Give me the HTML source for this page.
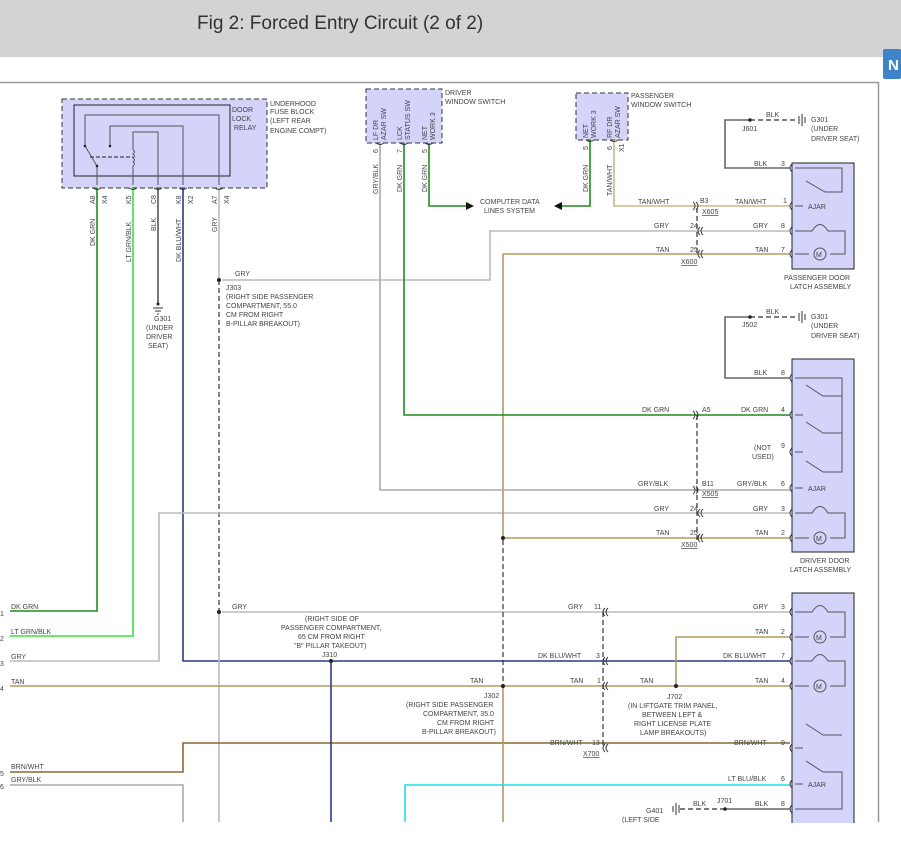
<!DOCTYPE html>
<html><head><meta charset="utf-8"><style>
html,body{margin:0;padding:0;background:#fff;width:901px;height:842px;overflow:hidden}
svg{display:block}
text{font-family:"Liberation Sans",sans-serif;font-size:7px;fill:#444}
</style></head><body>
<svg width="901" height="842" viewBox="0 0 901 842" xmlns="http://www.w3.org/2000/svg">
<rect x="0" y="0" width="901" height="57" fill="#d3d3d3"/>
<text x="197" y="29" style="font-size:19px;fill:#333">Fig 2: Forced Entry Circuit (2 of 2)</text>
<rect x="883" y="49" width="18" height="30" rx="2" fill="#3d85c6"/>
<text x="888" y="70" style="font-size:15px;fill:#fff;font-weight:bold">N</text>
<path d="M0 82.5 H878.5 V822" fill="none" stroke="#999" stroke-width="1.5"/>

<rect x="62" y="99" width="205" height="89" fill="#d4d4fb" stroke="#333" stroke-dasharray="5,3"/>
<rect x="74" y="105" width="156" height="71" fill="#d4d4fb" stroke="#222"/>
<g fill="none" stroke="#555">
<path d="M85 146 V115 H219 V185"/>
<path d="M110 146 V126 H183 V185"/>
<path d="M158 185 V132 H133 V150"/>
<path d="M133 150 q3 2 0 4 q3 2 0 4 q3 2 0 4 q3 2 0 4 V185"/>
<path d="M85 146 L97 166 V185"/>
<path d="M90 157 H133" stroke-dasharray="4,2" stroke="#222"/>
</g>
<circle cx="85" cy="146" r="1.3" fill="#222"/><circle cx="110" cy="146" r="1.3" fill="#222"/><circle cx="97" cy="166" r="1.3" fill="#222"/>
<text x="232" y="112">DOOR</text><text x="232" y="121">LOCK</text><text x="234" y="130">RELAY</text>
<text x="270" y="106">UNDERHOOD</text><text x="270" y="114">FUSE BLOCK</text><text x="270" y="123">(LEFT REAR</text><text x="270" y="133">ENGINE COMPT)</text>

<rect x="366" y="89" width="76" height="54" fill="#d4d4fb" stroke="#333" stroke-dasharray="5,3"/>
<rect x="576" y="93" width="52" height="47" fill="#d4d4fb" stroke="#333" stroke-dasharray="5,3"/>
<text x="445" y="95">DRIVER</text><text x="445" y="104">WINDOW SWITCH</text>
<text x="631" y="98">PASSENGER</text><text x="631" y="107">WINDOW SWITCH</text>
<g transform="rotate(-90)">
<text x="-140" y="378">LF DR</text><text x="-140" y="386">AZAR SW</text>
<text x="-140" y="402">LCK</text><text x="-140" y="410">STATUS SW</text>
<text x="-140" y="427">NET</text><text x="-140" y="435">WORK 3</text>
<text x="-138" y="588">NET</text><text x="-138" y="596">WORK 3</text>
<text x="-138" y="612">RF DR</text><text x="-138" y="620">AZAR SW</text>
</g>

<g fill="none" stroke-width="1.6">
<path d="M97 188 V611 H10" stroke="#1e8c1e"/>
<path d="M133 188 V636 H10" stroke="#3ee03e"/>
<path d="M158 188 V303" stroke="#555"/>
<path d="M183 188 V661 H790" stroke="#2a3a8a"/>
<path d="M219 188 V280" stroke="#bbb"/>
<path d="M219 280 V612" stroke="#333" stroke-dasharray="5,3" stroke-width="1.2"/>
<path d="M219 612 V822" stroke="#bbb"/>
<path d="M222 280 H490 V231 H790" stroke="#bbb"/>
<path d="M222 612 H790" stroke="#bbb"/>
<path d="M10 661 H159 V513 H790" stroke="#bbb"/>
<path d="M10 686 H790" stroke="#b39a60"/>
<path d="M10 772 H183 V743 H790" stroke="#8a6a30"/>
<path d="M10 785 H183 V822" stroke="#aaa"/>
<path d="M331 661 V822" stroke="#2a3a8a"/>
<path d="M503 254 H790 M503 254 V538 H790" stroke="#b39a60"/>
<path d="M503 540 V686" stroke="#333" stroke-dasharray="5,3" stroke-width="1.2"/>
<path d="M503 686 V822" stroke="#b39a60"/>
<path d="M405 822 V785 H790" stroke="#19e0e6"/>
<path d="M380 143 V490 H790" stroke="#aaa"/>
<path d="M404 143 V415 H790" stroke="#1e8c1e"/>
<path d="M429 143 V206 H466" stroke="#1e8c1e"/>
<path d="M590 140 V206 H562" stroke="#1e8c1e"/>
<path d="M614 140 V206 H790" stroke="#c9b88e"/>
<path d="M676 686 V637 H790" stroke="#b39a60"/>
<path d="M790 168 H725 V120 H750" stroke="#666"/>
<path d="M790 378 H725 V317 H750" stroke="#666"/>
<path d="M790 809 H725" stroke="#666"/>
</g>
<g stroke="#333" stroke-dasharray="5,3" stroke-width="1.2" fill="none">
<path d="M750 120 H798 M750 317 H798 M725 809 H680"/>
<path d="M697 208 V254 M697 415 V540 M603 612 V748"/>
</g>
<polygon points="466,202 474,206 466,210" fill="#111"/>
<polygon points="562,202 554,206 562,210" fill="#111"/>
<g fill="#222">
<circle cx="219" cy="280" r="2"/><circle cx="219" cy="612" r="2"/><circle cx="331" cy="661" r="2"/><circle cx="503" cy="686" r="2"/><circle cx="503" cy="538" r="2"/><circle cx="676" cy="686" r="2"/>
<circle cx="750" cy="120" r="1.8"/><circle cx="750" cy="317" r="1.8"/><circle cx="725" cy="809" r="1.8"/><circle cx="158" cy="304" r="1.5"/>
</g>
<g stroke="#333" fill="none"><path d="M153 308 H163 M155 311 H161 M157 314 H159"/>
<path d="M799 116 V124 M802 114 V126 M805 117 V123 M799 313 V321 M802 311 V323 M805 314 V320 M679 805 V813 M676 803 V815 M673 806 V812"/></g>

<rect x="792" y="163" width="62" height="106" fill="#d4d4fb" stroke="#222"/>
<rect x="792" y="359" width="62" height="193" fill="#d4d4fb" stroke="#222"/>
<rect x="792" y="593" width="62" height="240" fill="#d4d4fb" stroke="#222"/>
<g fill="none" stroke="#555">
<path d="M795 168 H842 V192 H825 L806 181"/>
<path d="M795 206 H803"/>
<path d="M795 231 H812 Q820 218 828 231 H845 V254 H830 M795 254 H809"/>
<circle cx="820" cy="254" r="6"/>
<path d="M795 378 H842 V472 H823 L806 461 M842 433 H823 L806 422 M842 396 H823 L806 385"/>
<path d="M795 415 H803 M795 452 H803 M795 488 H803"/>
<path d="M795 513 H812 Q820 500 828 513 H845 V538 H830 M795 538 H809"/><circle cx="820" cy="538" r="6"/>
<path d="M795 612 H812 Q820 599 828 612 H845 V637 H830 M795 637 H809"/><circle cx="820" cy="637" r="6"/>
<path d="M795 661 H812 Q820 648 828 661 H845 V686 H830 M795 686 H809"/><circle cx="820" cy="686" r="6"/>
<path d="M795 809 H842 V772 H823 L806 761 M842 735 H823 L806 724 M795 748 H803"/>
<path d="M795 784 H803"/>
</g>
<g style="font-size:8px;fill:#333"><text x="816" y="257">M</text><text x="816" y="541">M</text><text x="816" y="640">M</text><text x="816" y="689">M</text></g>
<text x="808" y="209">AJAR</text><text x="808" y="491">AJAR</text><text x="808" y="787">AJAR</text>
<text x="784" y="280">PASSENGER DOOR</text><text x="790" y="289">LATCH ASSEMBLY</text>
<text x="800" y="563">DRIVER DOOR</text><text x="790" y="572">LATCH ASSEMBLY</text>

<g fill="none" stroke="#333" stroke-width="0.9">
<path d="M792 164 q-4 4 0 8 M792 202 q-4 4 0 8 M792 227 q-4 4 0 8 M792 250 q-4 4 0 8 M792 374 q-4 4 0 8 M792 411 q-4 4 0 8 M792 448 q-4 4 0 8 M792 484 q-4 4 0 8 M792 509 q-4 4 0 8 M792 534 q-4 4 0 8 M792 608 q-4 4 0 8 M792 633 q-4 4 0 8 M792 657 q-4 4 0 8 M792 682 q-4 4 0 8 M792 744 q-4 4 0 8 M792 780 q-4 4 0 8 M792 805 q-4 4 0 8"/>
<path d="M700 227 q-4 4 0 8 M703 227 q-4 4 0 8 M700 250 q-4 4 0 8 M703 250 q-4 4 0 8 M700 509 q-4 4 0 8 M703 509 q-4 4 0 8 M700 534 q-4 4 0 8 M703 534 q-4 4 0 8"/>
<path d="M693 202 q4 4 0 8 M696 202 q4 4 0 8 M693 411 q4 4 0 8 M696 411 q4 4 0 8 M693 486 q4 4 0 8 M696 486 q4 4 0 8"/>
<path d="M605 608 q-4 4 0 8 M608 608 q-4 4 0 8 M605 657 q-4 4 0 8 M608 657 q-4 4 0 8 M605 682 q-4 4 0 8 M608 682 q-4 4 0 8 M605 744 q-4 4 0 8 M608 744 q-4 4 0 8"/>
<path d="M93 188 q4 3 8 0 M129 188 q4 3 8 0 M154 188 q4 3 8 0 M179 188 q4 3 8 0 M215 188 q4 3 8 0 M376 143 q4 3 8 0 M400 143 q4 3 8 0 M425 143 q4 3 8 0 M586 140 q4 3 8 0 M610 140 q4 3 8 0"/>
</g>

<g transform="rotate(-90)">
<text x="-204" y="95">A8</text><text x="-204" y="107">X4</text>
<text x="-204" y="131">K5</text><text x="-204" y="156">C8</text>
<text x="-204" y="181">K8</text><text x="-204" y="193">X2</text>
<text x="-204" y="217">A7</text><text x="-204" y="229">X4</text>
<text x="-246" y="95">DK GRN</text><text x="-262" y="131">LT GRN/BLK</text><text x="-231" y="156">BLK</text>
<text x="-262" y="181">DK BLU/WHT</text><text x="-232" y="217">GRY</text>
<text x="-153" y="378">6</text><text x="-153" y="402">7</text><text x="-153" y="427">5</text>
<text x="-150" y="588">5</text><text x="-150" y="612">6</text><text x="-152" y="624">X1</text>
<text x="-194" y="378">GRY/BLK</text><text x="-192" y="402">DK GRN</text><text x="-192" y="427">DK GRN</text>
<text x="-192" y="588">DK GRN</text><text x="-196" y="612">TAN/WHT</text>
</g>

<text x="154" y="321">G301</text><text x="146" y="330">(UNDER</text><text x="146" y="339">DRIVER</text><text x="148" y="348">SEAT)</text>
<text x="235" y="276">GRY</text>
<text x="226" y="290">J303</text><text x="226" y="299">(RIGHT SIDE PASSENGER</text><text x="226" y="308">COMPARTMENT, 55.0</text><text x="226" y="317">CM FROM RIGHT</text><text x="226" y="326">B-PILLAR BREAKOUT)</text>
<text x="480" y="204">COMPUTER DATA</text><text x="484" y="213">LINES SYSTEM</text>
<text x="638" y="204">TAN/WHT</text><text x="700" y="203">B3</text><text x="702" y="214" text-decoration="underline">X605</text><text x="735" y="204">TAN/WHT</text><text x="783" y="203">1</text>
<text x="654" y="228">GRY</text><text x="690" y="228">24</text><text x="753" y="228">GRY</text><text x="781" y="228">8</text>
<text x="656" y="252">TAN</text><text x="690" y="252">25</text><text x="755" y="252">TAN</text><text x="781" y="252">7</text>
<text x="681" y="264" text-decoration="underline">X600</text>
<text x="754" y="166">BLK</text><text x="781" y="166">3</text>
<text x="766" y="117">BLK</text><text x="742" y="131">J601</text><text x="811" y="122">G301</text><text x="811" y="131">(UNDER</text><text x="811" y="141">DRIVER SEAT)</text>
<text x="766" y="314">BLK</text><text x="742" y="327">J502</text><text x="811" y="319">G301</text><text x="811" y="328">(UNDER</text><text x="811" y="338">DRIVER SEAT)</text>
<text x="754" y="375">BLK</text><text x="781" y="375">8</text>
<text x="642" y="412">DK GRN</text><text x="702" y="412">A5</text><text x="741" y="412">DK GRN</text><text x="781" y="412">4</text>
<text x="754" y="450">(NOT</text><text x="752" y="459">USED)</text><text x="781" y="448">9</text>
<text x="638" y="486">GRY/BLK</text><text x="702" y="486">B11</text><text x="702" y="496" text-decoration="underline">X505</text><text x="737" y="486">GRY/BLK</text><text x="781" y="486">6</text>
<text x="654" y="511">GRY</text><text x="690" y="511">24</text><text x="753" y="511">GRY</text><text x="781" y="511">3</text>
<text x="656" y="535">TAN</text><text x="690" y="535">25</text><text x="755" y="535">TAN</text><text x="781" y="535">2</text>
<text x="681" y="547" text-decoration="underline">X500</text>
<text x="11" y="609">DK GRN</text><text x="0" y="616">1</text>
<text x="11" y="634">LT GRN/BLK</text><text x="0" y="641">2</text>
<text x="11" y="659">GRY</text><text x="0" y="666">3</text>
<text x="11" y="684">TAN</text><text x="0" y="691">4</text>
<text x="11" y="769">BRN/WHT</text><text x="0" y="776">5</text>
<text x="11" y="782">GRY/BLK</text><text x="0" y="789">6</text>
<text x="232" y="609">GRY</text>
<text x="305" y="621">(RIGHT SIDE OF</text><text x="281" y="630">PASSENGER COMPARTMENT,</text><text x="298" y="639">65 CM FROM RIGHT</text><text x="294" y="648">"B" PILLAR TAKEOUT)</text><text x="322" y="657">J310</text>
<text x="568" y="609">GRY</text><text x="594" y="609">11</text><text x="753" y="609">GRY</text><text x="781" y="609">3</text>
<text x="755" y="634">TAN</text><text x="781" y="634">2</text>
<text x="538" y="658">DK BLU/WHT</text><text x="596" y="658">3</text><text x="723" y="658">DK BLU/WHT</text><text x="781" y="658">7</text>
<text x="470" y="683">TAN</text><text x="570" y="683">TAN</text><text x="597" y="683">1</text><text x="640" y="683">TAN</text><text x="755" y="683">TAN</text><text x="781" y="683">4</text>
<text x="484" y="698">J302</text><text x="406" y="707">(RIGHT SIDE PASSENGER</text><text x="423" y="716">COMPARTMENT, 35.0</text><text x="437" y="725">CM FROM RIGHT</text><text x="422" y="734">B-PILLAR BREAKOUT)</text>
<text x="667" y="699">J702</text><text x="628" y="708">(IN LIFTGATE TRIM PANEL,</text><text x="642" y="717">BETWEEN LEFT &amp;</text><text x="634" y="726">RIGHT LICENSE PLATE</text><text x="640" y="735">LAMP BREAKOUTS)</text>
<text x="550" y="745">BRN/WHT</text><text x="592" y="745">13</text><text x="583" y="756" text-decoration="underline">X700</text><text x="734" y="745">BRN/WHT</text><text x="781" y="745">9</text>
<text x="728" y="781">LT BLU/BLK</text><text x="781" y="781">6</text>
<text x="693" y="806">BLK</text><text x="717" y="803">J701</text><text x="755" y="806">BLK</text><text x="781" y="806">8</text>
<text x="646" y="813">G401</text><text x="622" y="822">(LEFT SIDE</text>
<rect x="0" y="823" width="901" height="19" fill="#fff"/>
</svg>
</body></html>
